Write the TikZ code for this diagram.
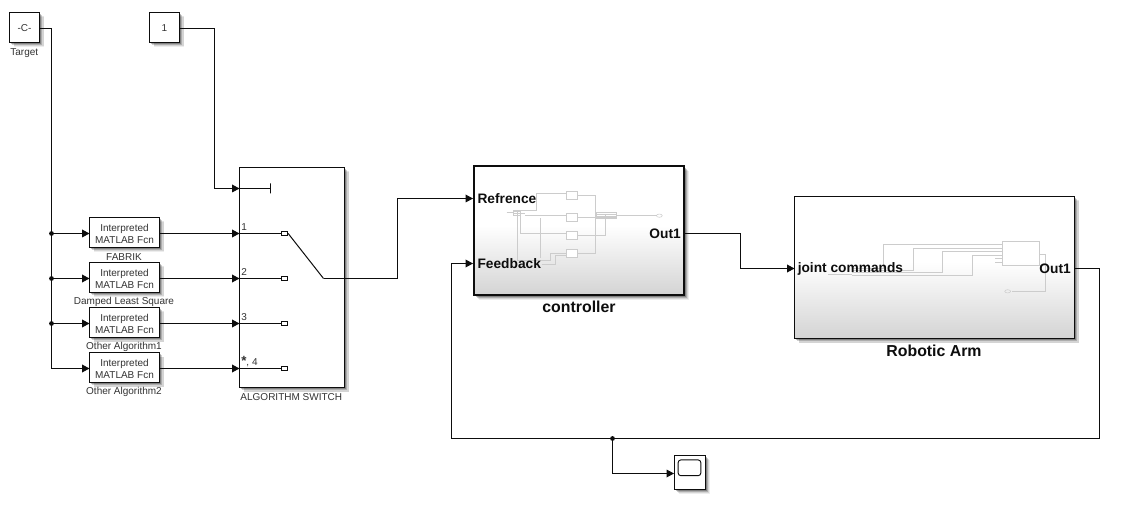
\documentclass[tikz,border=0pt]{standalone}
\usepackage{fontspec}
\setmainfont{Liberation Sans}
\usetikzlibrary{arrows.meta,shadows,calc}
\definecolor{inkc}{gray}{0.05}
\definecolor{capc}{gray}{0.2}
\definecolor{thumb}{gray}{0.8}
\pgfdeclareverticalshading{blockgrad}{100bp}{color(0bp)=(black!17);color(25bp)=(black!17);color(52bp)=(white);color(100bp)=(white)}
\tikzset{
  softshadow/.style={
    drop shadow={shadow xshift=3.6pt,shadow yshift=-3.6pt,opacity=.07,fill=black},
    drop shadow={shadow xshift=3.0pt,shadow yshift=-3.0pt,opacity=.10,fill=black},
    drop shadow={shadow xshift=2.2pt,shadow yshift=-2.2pt,opacity=.18,fill=black},
    drop shadow={shadow xshift=1.4pt,shadow yshift=-1.4pt,opacity=.25,fill=black}},
  blocktext/.style={align=center,font=\fontsize{7.5pt}{8.9pt}\selectfont,text=capc,inner sep=0pt},
  block/.style={draw=inkc,line width=.75pt,fill=white,inner sep=0pt,outer sep=0pt,softshadow},
  constblock/.style={block,minimum width=22.5pt,minimum height=22.5pt},
  fcnblock/.style={block,minimum width=52.5pt,minimum height=22.5pt,
    label={[blocktext,yshift=-.75pt]center:{Interpreted\\MATLAB Fcn}}},
  bigblock/.style={block,shade,shading=blockgrad},
  caplabel/.style={font=\fontsize{7.5pt}{9pt}\selectfont,text=capc,inner sep=0pt},
  portnum/.style={font=\fontsize{7.5pt}{9pt}\selectfont,text=capc,inner sep=0pt,anchor=west},
  bigport/.style={font=\bfseries\fontsize{10.3pt}{12pt}\selectfont,text=inkc,inner sep=0pt},
  bigcap/.style={font=\bfseries\fontsize{11.9pt}{14pt}\selectfont,text=inkc,inner sep=0pt},
  wire/.style={draw=inkc,line width=.75pt},
  arr/.style={wire,-{Triangle[length=5.6pt,width=5.8pt]}},
  dotj/.style={circle,fill=inkc,inner sep=0pt,minimum size=3.6pt},
  stub/.style={draw=inkc,fill=white,line width=.7pt,inner sep=0pt,minimum width=4.8pt,minimum height=3.2pt},
  thumbline/.style={draw=thumb,line width=.4pt},
}
\begin{document}
\begin{tikzpicture}[x=.75pt,y=-.75pt]
\useasboundingbox (0,0) rectangle (1128,527);
\fill[white] (0,0) rectangle (1128,527);

% constants
\node[constblock,label={[blocktext,yshift=-.4pt]center:{-C-}}] (target) at (24.5,27.5) {};
\node[caplabel] (targetcap) at (24.3,53) {Target};
\node[constblock,label={[blocktext,yshift=-.4pt]center:{1}}] (one) at (164.5,27.5) {};

% fcn blocks
\node[fcnblock] (fcn1) at (124.5,232.5) {};
\node[fcnblock] (fcn2) at (124.5,277.5) {};
\node[fcnblock] (fcn3) at (124.5,322.5) {};
\node[fcnblock] (fcn4) at (124.5,367.5) {};
\node[caplabel] (c1) at (124,257) {FABRIK};
\node[caplabel] (c2) at (124,302) {Damped Least Square};
\node[caplabel] (c3) at (124,347) {Other Algorithm1};
\node[caplabel] (c4) at (124,392) {Other Algorithm2};

% switch
\node[block,minimum width=78.75pt,minimum height=165pt] (switch) at (292,277.5) {};
\node[caplabel] (swcap) at (291.3,397) {ALGORITHM SWITCH};
\coordinate (ctl) at (239.5,188.5);
\coordinate (in1) at (239.5,233.5);
\coordinate (in2) at (239.5,278.5);
\coordinate (in3) at (239.5,323.5);
\coordinate (in4) at (239.5,368.5);
\node[stub] (s1) at (284.5,233.5) {};
\node[stub] (s2) at (284.5,278.5) {};
\node[stub] (s3) at (284.5,323.5) {};
\node[stub] (s4) at (284.5,368.5) {};
\coordinate (pivot) at (323.5,278.5);
\node[inner sep=0pt,minimum width=0pt,minimum height=7.5pt,draw=inkc,line width=.7pt] (tick) at (270.5,188.5) {};
\node[portnum] (p1) at (241,227.5) {1};
\node[portnum] (p2) at (241,272.5) {2};
\node[portnum] (p3) at (241,317.5) {3};
\node[portnum] (p4) at (241,362) {\textbf{\fontsize{10pt}{10pt}\selectfont *}, 4};
\draw[wire] (ctl) -- (tick);
\draw[wire] (in1) -- (s1);
\draw[wire] (in2) -- (s2);
\draw[wire] (in3) -- (s3);
\draw[wire] (in4) -- (s4);
\draw[wire] (s1.east) -- (pivot);

% big blocks
\node[bigblock,line width=1.6pt,minimum width=157.5pt,minimum height=96.7pt] (ctrl) at (579,230.5) {};
\node[bigblock,minimum width=210pt,minimum height=106.5pt] (arm) at (934.5,267.5) {};

% controller thumbnail
\begin{scope}[shift={(460,155)},x=.25pt,y=-.25pt]
  \foreach \a/\b in {110/134,174/199,229/253,282/306}
    \draw[thumbline,fill=white] (320,\a) rectangle (353,\b);
  \draw[thumbline] (353,120)--(406,120)--(406,295)--(353,295);
  \draw[thumbline] (320,115)--(230,115)--(230,165)--(160,165);
  \draw[thumbline] (196,180)--(320,180);
  \draw[thumbline] (353,187)--(468,187);
  \draw[thumbline] (180,170)--(180,236)--(320,236);
  \draw[thumbline] (353,240)--(436,240)--(436,178)--(468,178);
  \draw[thumbline] (172,170)--(172,315)--(270,315)--(270,295)--(320,295);
  \draw[thumbline] (240,190)--(240,310);
  \draw[thumbline] (245,328)--(285,328)--(285,300)--(320,300);
  \draw[thumbline] (468,182)--(590,182);
  \draw[thumbline] (140,172)--(160,172);
  \draw[thumbline] (160,168) rectangle (180,182);
  \draw[thumbline] (160,175)--(196,175);
  \draw[thumbline] (410,172) rectangle (468,190);
  \draw[thumbline] (410,178)--(468,178) (410,184)--(468,184);
  \draw[thumbline] (598,182) ellipse (2.2pt and 1.2pt);
\end{scope}

% arm thumbnail
\begin{scope}[shift={(785,185)},x=.25pt,y=-.25pt]
  \draw[thumbline] (652,169) rectangle (764,240);
  \draw[thumbline] (652,178)--(296,178)--(296,250)--(200,250);
  \draw[thumbline] (652,189)--(385,189)--(385,257)--(200,257);
  \draw[thumbline] (652,199)--(472,199)--(472,263)--(200,263);
  \draw[thumbline] (652,210)--(561,210)--(561,270)--(200,270);
  \draw[thumbline] (652,220)--(630,220) (652,232)--(630,232);
  \draw[thumbline] (764,208)--(782,208)--(782,319)--(680,319);
  \draw[thumbline] (764,240)--(782,240);
  \draw[thumbline] (130,267)--(200,267);
  \draw[thumbline] (668,319) ellipse (2.2pt and 1.2pt);
\end{scope}

\node[bigport,anchor=west] (refl) at (477.3,198.5) {Refrence};
\node[bigport,anchor=west] (fbl) at (477.3,263.5) {Feedback};
\node[bigport,anchor=east] (outl) at (681,234) {Out1};
\node[bigcap] (ctrlcap) at (579,306.5) {controller};
\node[bigport,anchor=west] (jcl) at (797.5,268.5) {joint commands};
\node[bigport,anchor=east] (outr) at (1071,268.5) {Out1};
\node[bigcap] (armcap) at (934,350.5) {Robotic Arm};

% scope
\node[block,minimum width=23.25pt,minimum height=25.5pt] (scp) at (689.5,472) {};
\node[draw=inkc,line width=.7pt,fill=white,rounded corners=2pt,inner sep=0pt,minimum width=17pt,minimum height=11.8pt] (screen) at (689.5,467.8) {};

% connectors
\coordinate (tout) at (39.5,28.5);
\coordinate (busbot) at (51.5,368.5);
\node[dotj] (j1) at (51.5,233.5) {};
\node[dotj] (j2) at (51.5,278.5) {};
\node[dotj] (j3) at (51.5,323.5) {};
\coordinate (f1w) at (89.5,233.5);
\coordinate (f2w) at (89.5,278.5);
\coordinate (f3w) at (89.5,323.5);
\coordinate (f4w) at (89.5,368.5);
\coordinate (f1e) at (159.5,233.5);
\coordinate (f2e) at (159.5,278.5);
\coordinate (f3e) at (159.5,323.5);
\coordinate (f4e) at (159.5,368.5);
\draw[arr] (tout) -| (busbot) -- (f4w);
\draw[arr] (j1.center) -- (f1w);
\draw[arr] (j2.center) -- (f2w);
\draw[arr] (j3.center) -- (f3w);
\draw[arr] (f1e) -- (in1);
\draw[arr] (f2e) -- (in2);
\draw[arr] (f3e) -- (in3);
\draw[arr] (f4e) -- (in4);
\coordinate (oneout) at (179.5,28.5);
\coordinate (onebend) at (214.5,188.5);
\draw[arr] (oneout) -| (onebend) -- (ctl);

\coordinate (refport) at (473,198.5);
\coordinate (fbport) at (473,263.5);
\coordinate (cout) at (684.5,233.5);
\coordinate (jport) at (794.5,268.5);
\coordinate (aout) at (1074.5,268.5);
\coordinate (b1) at (397.5,278.5);
\coordinate (b2) at (397.5,198.5);
\coordinate (b3) at (740.5,233.5);
\coordinate (b4) at (740.5,268.5);
\coordinate (b5) at (1099.5,268.5);
\coordinate (b6) at (1099.5,438.5);
\coordinate (b7) at (451.5,438.5);
\coordinate (b8) at (451.5,263.5);
\coordinate (b9) at (612.5,473.5);
\coordinate (scpin) at (674,473.5);
\node[dotj] (j4) at (612.5,438.5) {};
\draw[arr] (pivot) -- (b1) -- (b2) -- (refport);
\draw[arr] (cout) -- (b3) -- (b4) -- (jport);
\draw[arr] (aout) -- (b5) -- (b6) -- (b7) -- (b8) -- (fbport);
\draw[arr] (j4.center) -- (b9) -- (scpin);
\end{tikzpicture}
\end{document}
